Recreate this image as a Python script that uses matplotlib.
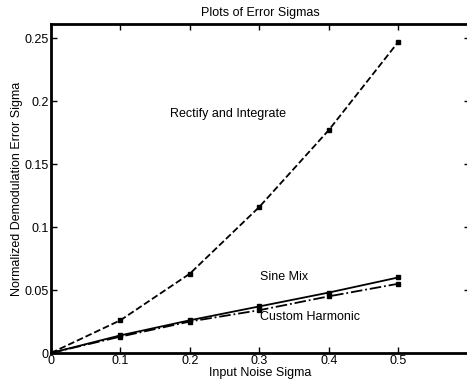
import matplotlib
matplotlib.use("Agg")
import matplotlib.pyplot as plt

plt.rcParams["font.family"] = ["Liberation Sans", "DejaVu Sans"]

# valores
noise_sigma = [0.0, 0.1, 0.2, 0.3, 0.4, 0.5]
rectify = [0.0, 0.026, 0.063, 0.116, 0.177, 0.247]
sine_mix = [0.0, 0.014, 0.026, 0.037, 0.048, 0.060]
custom_harm = [0.0, 0.013, 0.025, 0.034, 0.045, 0.055]

x_ticks = [0, 0.1, 0.2, 0.3, 0.4, 0.5]
x_labels = ["0", "0.1", "0.2", "0.3", "0.4", "0.5"]
y_ticks = [0, 0.05, 0.1, 0.15, 0.2, 0.25]
y_labels = ["0", "0.05", "0.1", "0.15", "0.2", "0.25"]

fs = 9

fig = plt.figure(figsize=(4.67, 3.89), dpi=100)
# el eje derecho queda justo fuera de la imagen, como en el original
ax = fig.add_axes([0.109, 0.0925, 0.897, 0.845])

mk = dict(marker="s", markersize=3.4, color="black")
ax.plot(noise_sigma, rectify, linestyle="--", linewidth=1.3, **mk)
ax.plot(noise_sigma, sine_mix, linestyle="-", linewidth=1.3, **mk)
ax.plot(noise_sigma, custom_harm, linestyle="-.", linewidth=1.3, **mk)

ax.text(0.171, 0.19, "Rectify and Integrate", fontsize=fs, va="center")
ax.text(0.301, 0.0605, "Sine Mix", fontsize=fs, va="center")
ax.text(0.301, 0.0285, "Custom Harmonic", fontsize=fs, va="center")

ax.set_xlim(0, 0.603)
ax.set_ylim(0, 0.261)
ax.set_xticks(x_ticks)
ax.set_xticklabels(x_labels)
ax.set_yticks(y_ticks)
ax.set_yticklabels(y_labels)
ax.tick_params(direction="in", top=True, right=True, labelsize=fs, width=1, length=4, pad=1.5)
for s in ax.spines.values():
    s.set_linewidth(2)

ax.set_xlabel("Input Noise Sigma", fontsize=fs, labelpad=0)
ax.set_ylabel("Normalized Demodulation Error Sigma", fontsize=fs, labelpad=1)
ax.set_title("Plots of Error Sigmas", fontsize=fs, pad=6)

fig.savefig("out.png", dpi=100)
